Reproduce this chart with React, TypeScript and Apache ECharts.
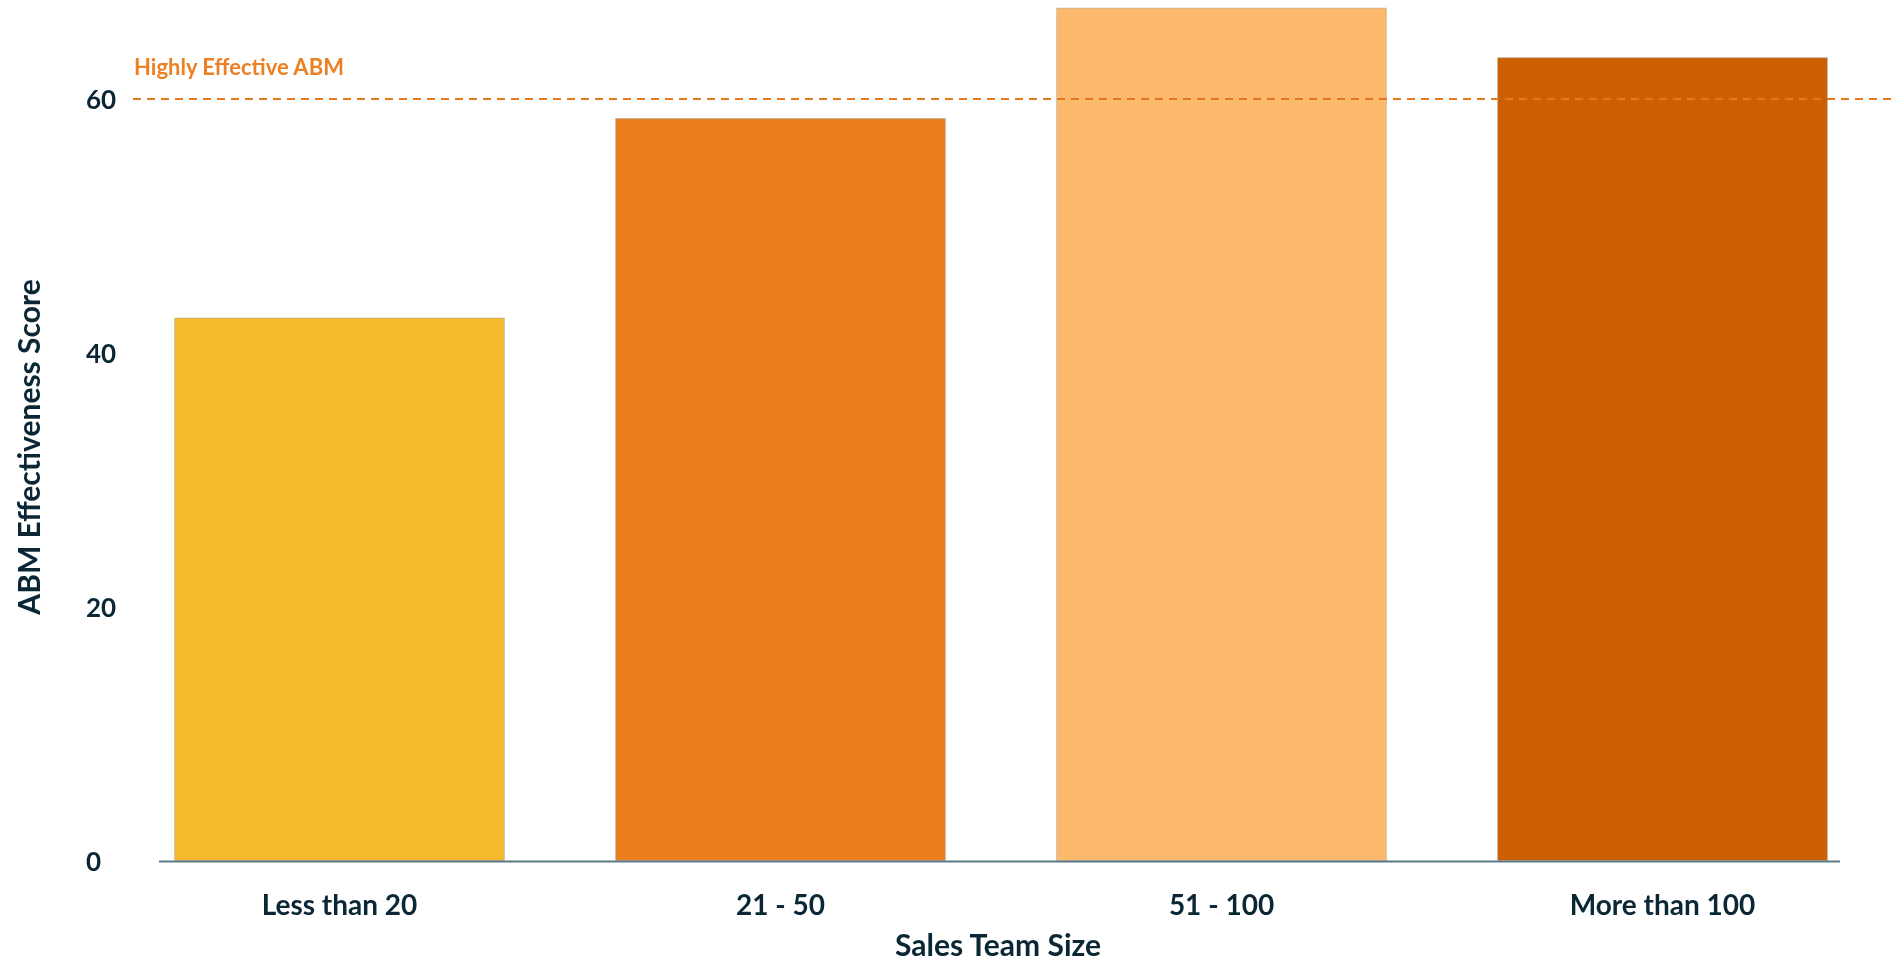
import React, { useEffect, useRef } from "react";
import * as echarts from "echarts";

const categories = ["Less than 20", "21 - 50", "51 - 100", "More than 100"];
const scores = [42.8, 58.5, 67.2, 63.3];
const barColors = ["#F6BA2E", "#EB7F1E", "#FDB96B", "#CC5F00"];
const thresholdValue = 60;
const thresholdLabel = "Highly Effective ABM";
const xTitle = "Sales Team Size";
const yTitle = "ABM Effectiveness Score";

const FONT = "Lato, 'DejaVu Sans', sans-serif";
const TEXT = "#0B2736";

export default function App() {
  const ref = useRef<HTMLDivElement>(null);
  useEffect(() => {
    if (!ref.current) return;
    const chart = echarts.init(ref.current, undefined, { renderer: "svg" });
    chart.setOption({
      animation: false,
      grid: { left: 119, right: 10, top: 0, bottom: 102 },
      xAxis: {
        type: "category",
        data: categories,
        axisLine: { show: false },
        axisTick: { show: false },
        axisLabel: {
          color: TEXT,
          fontFamily: FONT,
          fontWeight: "bold",
          fontSize: 28,
          margin: 29,
        },
      },
      yAxis: {
        type: "value",
        min: 0,
        max: 67.8,
        interval: 20,
        splitLine: { show: false },
        axisLine: { show: false },
        axisTick: { show: false },
        axisLabel: {
          showMaxLabel: false,
          color: TEXT,
          fontFamily: FONT,
          fontWeight: "bold",
          fontSize: 26,
          align: "left",
          margin: 33,
        },
      },
      series: [
        {
          type: "bar",
          barCategoryGap: "25%",
          data: scores.map((v, i) => ({
            value: v,
            itemStyle: { color: barColors[i] },
          })),
          itemStyle: {
            borderColor: "rgba(170,170,170,0.55)",
            borderWidth: 1,
          },
        },
      ],
    });
    const y60 = chart.convertToPixel({ yAxisIndex: 0 }, thresholdValue) as number;
    const y0 = chart.convertToPixel({ yAxisIndex: 0 }, 0) as number;
    chart.setOption({
      graphic: [
        {
          type: "line",
          shape: { x1: 159, y1: y0 + 0.5, x2: 1840, y2: y0 + 0.5 },
          style: { stroke: "#5D7886", lineWidth: 2 },
          z: 10,
        },
        {
          type: "line",
          shape: { x1: 133, y1: y60, x2: 1893, y2: y60 },
          style: { stroke: "#E57A22", lineWidth: 2, lineDash: [8, 6] },
          z: 10,
        },
        {
          type: "text",
          x: 134,
          y: y60 - 33,
          style: {
            text: thresholdLabel,
            fill: "#EB8025",
            font: `bold 22px ${FONT}`,
            textVerticalAlign: "middle",
          },
          z: 10,
        },
        {
          type: "text",
          x: 998,
          y: 944,
          style: {
            text: xTitle,
            fill: TEXT,
            font: `bold 30px ${FONT}`,
            textAlign: "center",
            textVerticalAlign: "middle",
          },
        },
        {
          type: "text",
          x: 28,
          y: 447,
          rotation: Math.PI / 2,
          style: {
            text: yTitle,
            fill: TEXT,
            font: `bold 30px ${FONT}`,
            textAlign: "center",
            textVerticalAlign: "middle",
          },
        },
      ],
    });
    return () => chart.dispose();
  }, []);
  return (
    <div
      ref={ref}
      style={{ position: "fixed", left: 0, top: 0, width: 1893, height: 963 }}
    />
  );
}
